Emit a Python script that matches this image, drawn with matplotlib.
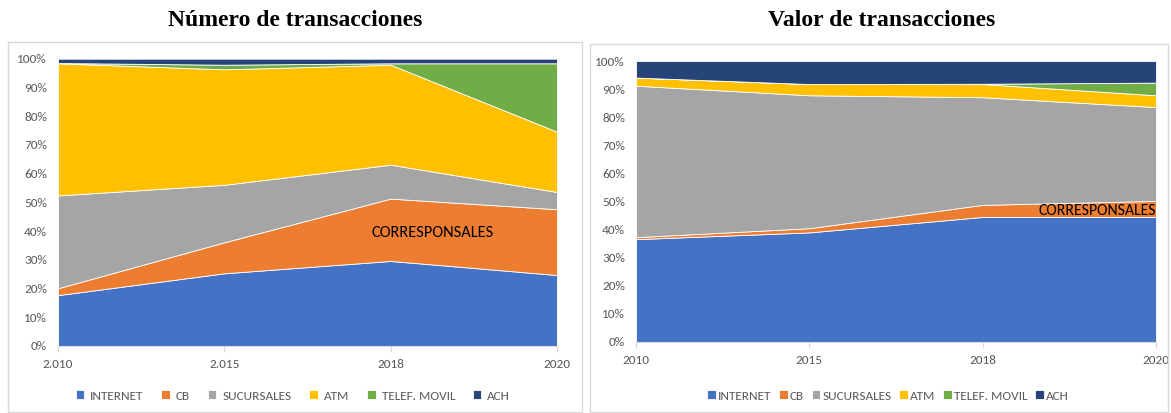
import matplotlib.pyplot as plt
from matplotlib.patches import Rectangle
from matplotlib.ticker import PercentFormatter

series = ["INTERNET", "CB", "SUCURSALES", "ATM", "TELEF. MOVIL", "ACH"]
colors = ["#4472C4", "#ED7D31", "#A5A5A5", "#FFC000", "#70AD47", "#264478"]

# Número de transacciones (participación %)
years_num = ["2.010", "2.015", "2018", "2020"]
num_internet = [17.7, 25.3, 29.6, 24.7]
num_cb = [2.4, 10.8, 21.7, 22.9]
num_sucursales = [32.3, 20.0, 11.8, 6.0]
num_atm = [46.0, 40.2, 34.8, 21.0]
num_telef = [0.1, 1.6, 0.5, 23.8]
num_ach = [1.5, 2.1, 1.6, 1.6]

# Valor de transacciones (participación %)
years_val = ["2010", "2015", "2018", "2020"]
val_internet = [36.6, 39.0, 44.5, 44.5]
val_cb = [0.7, 1.5, 4.3, 5.7]
val_sucursales = [53.9, 47.3, 38.3, 33.4]
val_atm = [2.9, 4.0, 4.7, 4.2]
val_telef = [0.0, 0.0, 0.1, 4.5]
val_ach = [5.9, 8.2, 8.1, 7.7]

label_font = ["Carlito", "Archivo Narrow", "DejaVu Sans"]
grey = "#595959"

W, H = 1171, 413
fig = plt.figure(figsize=(W / 100, H / 100), dpi=100)


def box(x0, y0, x1, y1):
    return [x0 / W, 1 - y1 / H, (x1 - x0) / W, (y1 - y0) / H]


# light frames around each chart
for x0, y0, x1, y1 in [(8, 42, 582, 412), (590, 44, 1168, 412)]:
    fig.patches.append(Rectangle((x0 / W, 1 - y1 / H), (x1 - x0) / W, (y1 - y0) / H,
                                 transform=fig.transFigure, fill=False,
                                 edgecolor="#D9D9D9", linewidth=1))


def area_chart(ax, years, data):
    x = range(len(years))
    ax.stackplot(x, *data, colors=colors, labels=series,
                 edgecolor="white", linewidth=0.6)
    ax.set_xlim(0, len(years) - 1)
    ax.set_ylim(0, 100)
    ax.set_xticks(list(x))
    ax.set_xticklabels(years)
    ax.set_yticks(range(0, 101, 10))
    ax.yaxis.set_major_formatter(PercentFormatter(decimals=0))
    for s in ["top", "right", "left"]:
        ax.spines[s].set_visible(False)
    ax.spines["bottom"].set_color("#D9D9D9")
    ax.tick_params(axis="y", length=0, pad=8, colors=grey, labelsize=9.5)
    ax.tick_params(axis="x", length=4, color="#D9D9D9", colors=grey,
                   labelsize=9.5, pad=5)
    for lbl in ax.get_xticklabels() + ax.get_yticklabels():
        lbl.set_family(label_font)


ax1 = fig.add_axes(box(58, 58.7, 557, 346))
area_chart(ax1, years_num,
           [num_internet, num_cb, num_sucursales, num_atm, num_telef, num_ach])
ax1.text(2.25, 39.3, "CORRESPONSALES", ha="center", va="center",
         fontsize=11.8, family=label_font, color="black")

ax2 = fig.add_axes(box(636, 61, 1156, 342))
area_chart(ax2, years_val,
           [val_internet, val_cb, val_sucursales, val_atm, val_telef, val_ach])
ax2.text(2.66, 46.6, "CORRESPONSALES", ha="center", va="center",
         fontsize=11.3, family=label_font, color="black")

fig.text(295 / W, 1 - 20 / H, "Número de transacciones", ha="center", va="center",
         fontsize=17, fontweight="bold", family="Liberation Serif")
fig.text(882 / W, 1 - 20 / H, "Valor de transacciones", ha="center", va="center",
         fontsize=17, fontweight="bold", family="Liberation Serif")

handles, labels = ax1.get_legend_handles_labels()
leg1 = fig.legend(handles, labels, loc="center", bbox_to_anchor=(293 / W, 1 - 396 / H),
                  ncol=6, frameon=False, handlelength=0.65, handleheight=0.65,
                  columnspacing=1.35, handletextpad=0.45,
                  prop={"family": label_font, "size": 9.5})
leg2 = fig.legend(handles, labels, loc="center", bbox_to_anchor=(888 / W, 1 - 396 / H),
                  ncol=6, frameon=False, handlelength=0.65, handleheight=0.65,
                  columnspacing=0.6, handletextpad=0.15,
                  prop={"family": label_font, "size": 9.5})
for leg in (leg1, leg2):
    for t in leg.get_texts():
        t.set_color(grey)

fig.savefig("out.png", dpi=100)
